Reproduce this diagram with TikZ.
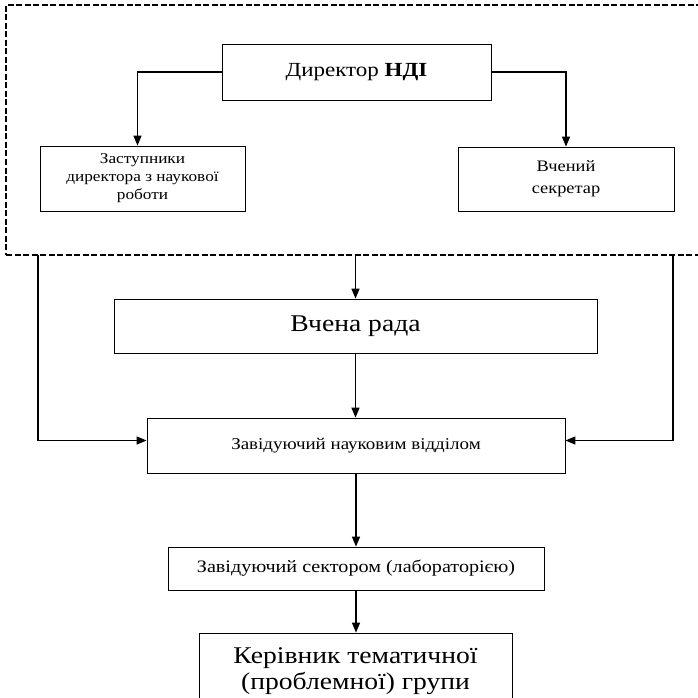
\documentclass[tikz,border=0pt]{standalone}
\usepackage{fontspec}
\setmainfont{Liberation Serif}[FakeStretch=1.15]
\usetikzlibrary{arrows.meta}

\begin{document}
\begin{tikzpicture}[x=1pt,y=-1pt,
  box/.style={draw, line width=0.8pt, align=center, inner sep=2pt},
  frame/.style={draw, line width=1.3pt, dash pattern=on 6pt off 2.5pt},
  arr/.style={line width=1.4pt, -{Triangle[length=10pt,width=8pt]}}]
\clip (0,0) rectangle (698,698);

\node[frame, minimum width=699, minimum height=250] (top) at (355.5,130) {};

\node[box, minimum width=269, minimum height=56, font=\fontsize{20}{24}\selectfont] (dir) at (356.5,72) {Директор \textbf{НДІ}};
\node[box, minimum width=205, minimum height=65, font=\fontsize{15}{18}\selectfont] (dep) at (142.5,178.5) {Заступники\\директора з наукової\\роботи};
\node[box, minimum width=216, minimum height=64, font=\fontsize{16}{22}\selectfont] (sec) at (566,179) {Вчений\\секретар};
\node[box, minimum width=483, minimum height=54, font=\fontsize{24}{28}\selectfont] (rada) at (355.5,326) {Вчена рада};
\node[box, minimum width=418, minimum height=55, font=\fontsize{16.5}{20}\selectfont] (head) at (356,445.5) {Завідуючий науковим відділом};
\node[box, minimum width=376, minimum height=43, font=\fontsize{17.5}{20}\selectfont] (sector) at (356,568.5) {Завідуючий сектором (лабораторією)};
\node[box, minimum width=313, minimum height=76, font=\fontsize{24}{26}\selectfont] (lead) at (355.5,671) {Керівник тематичної\\(проблемної) групи};

\coordinate (lfeed) at (38,255);
\coordinate (rfeed) at (673,255);

\draw[arr] (dir.west) -| ([xshift=-5pt]dep.north);
\draw[arr] (dir.east) -| (sec.north);
\draw[arr] (top.south -| rada.north) -- (rada.north);
\draw[arr] (rada.south) -- (rada.south |- head.north);
\draw[arr] (lfeed) |- ([yshift=5pt]head.west);
\draw[arr] (rfeed) |- ([yshift=5pt]head.east);
\draw[arr] (head.south) -- (head.south |- sector.north);
\draw[arr] (sector.south) -- (sector.south |- lead.north);
\end{tikzpicture}
\end{document}
